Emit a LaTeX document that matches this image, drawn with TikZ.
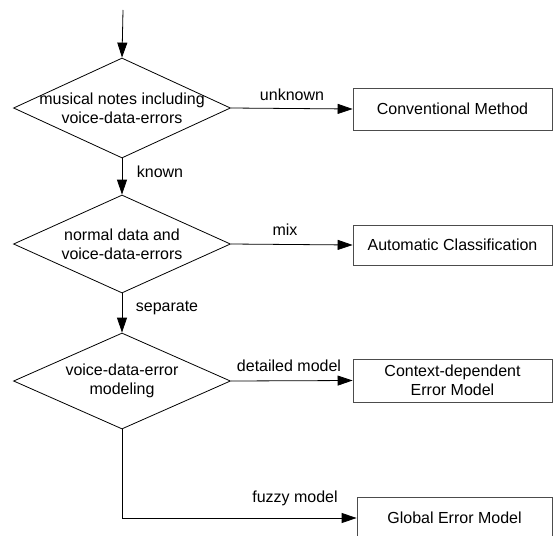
\documentclass[tikz,border=0pt]{standalone}
\usepackage{fontspec}
\setmainfont{Liberation Sans}
\usetikzlibrary{shapes.geometric,arrows.meta}
\begin{document}
\begin{tikzpicture}[x=1pt,y=-1pt,
  every node/.style={font=\fontsize{16}{19}\selectfont},
  dec/.style={diamond, draw=black, line width=0.8pt, inner sep=0pt, minimum width=217pt, minimum height=#1},
  dtext/.style={align=center, inner sep=0pt},
  procbox/.style={rectangle, draw=black!70, line width=0.8pt, align=center, inner sep=0pt},
  flow/.style={line width=0.8pt, -{Triangle[length=15pt,width=10pt]}},
  lbl/.style={inner sep=0pt}]
\useasboundingbox (0,0) rectangle (553,535);
\clip (0,0) rectangle (553,535);
\coordinate (start) at (123,10);
\node[dec=100pt] (d1) at (122,108) {};
\node[dtext] (t1) at (d1.center) {musical notes including\\voice-data-errors};
\node[dec=98pt] (d2) at (122,244) {};
\node[dtext] (t2) at (d2.center) {normal data and\\voice-data-errors};
\node[dec=96pt] (d3) at (122,381) {};
\node[dtext] (t3) at (d3.center) {voice-data-error\\modeling};
\node[procbox, minimum width=199pt, minimum height=42pt] (b1) at (452.5,109) {Conventional Method};
\node[procbox, minimum width=199pt, minimum height=40pt] (b2) at (452.5,245) {Automatic Classification};
\node[procbox, minimum width=199pt, minimum height=43pt] (b3) at (452.5,380.5) {Context-dependent\\Error Model};
\node[procbox, minimum width=195pt, minimum height=42pt] (b4) at (454.5,518) {Global Error Model};
\draw[flow] (start) -- (d1.north);
\draw[flow] (d1.south) -- (d2.north);
\draw[flow] (d2.south) -- (d3.north);
\draw[flow] (d1.east) -- (b1.west);
\draw[flow] (d2.east) -- (b2.west);
\draw[flow] (d3.east) -- (b3.west);
\draw[flow] (d3.south) |- (b4.west);
\node[lbl] (l1) at (292,95) {unknown};
\node[lbl] (l2) at (160,172) {known};
\node[lbl] (l3) at (285,230) {mix};
\node[lbl] (l4) at (167,308) {separate};
\node[lbl] (l5) at (289,366) {detailed model};
\node[lbl] (l6) at (295,498) {fuzzy model};
\end{tikzpicture}
\end{document}
